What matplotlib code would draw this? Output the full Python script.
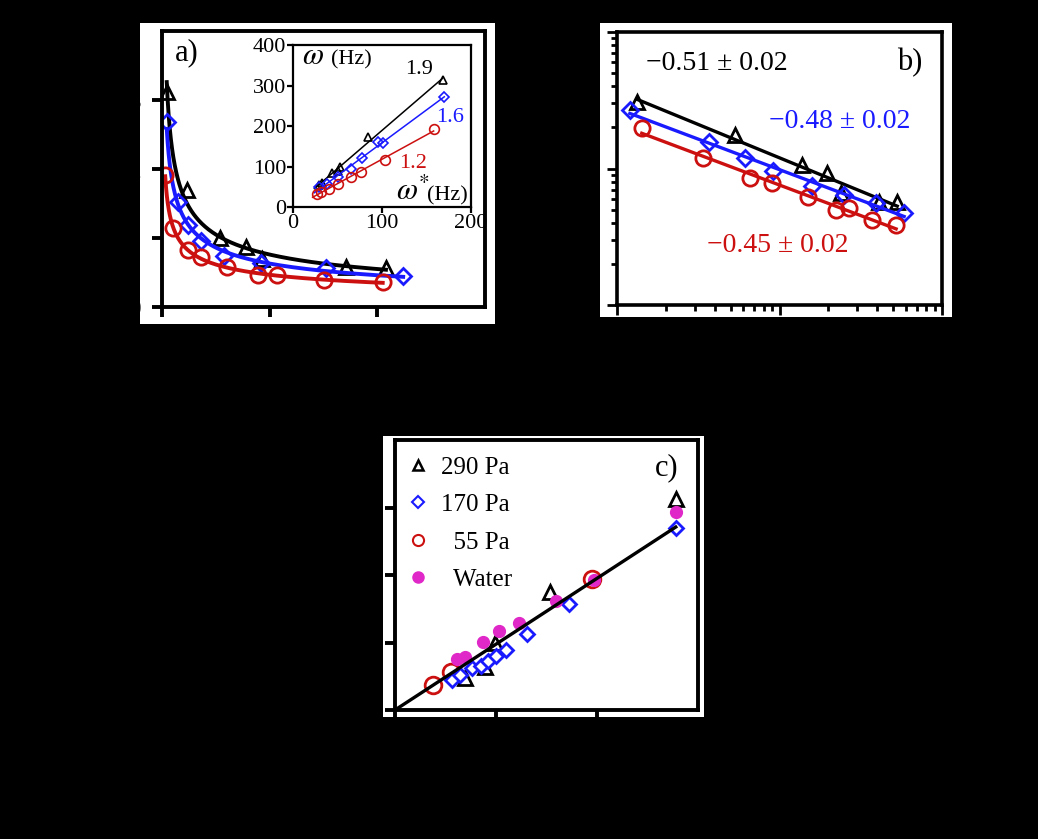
import numpy as np
import matplotlib
matplotlib.use('Agg')
import matplotlib.pyplot as plt
from matplotlib.lines import Line2D
from matplotlib.patches import Rectangle
from matplotlib.ticker import LogLocator, NullFormatter

plt.rcParams['font.family'] = ['Liberation Serif', 'DejaVu Serif']
plt.rcParams['mathtext.fontset'] = 'stix'

# ---- data ----
# panel a (linear axes)
a_x_290 = [0.044, 0.23, 0.54, 0.78, 0.93, 1.71, 2.08]
a_y_290 = [3.12, 1.70, 1.00, 0.87, 0.70, 0.58, 0.57]
a_x_170 = [0.044, 0.15, 0.24, 0.36, 0.58, 0.92, 1.52, 2.24]
a_y_170 = [2.68, 1.52, 1.19, 0.95, 0.74, 0.64, 0.56, 0.45]
a_x_55 = [0.03, 0.10, 0.24, 0.36, 0.60, 0.89, 1.07, 1.50, 2.05]
a_y_55 = [1.91, 1.14, 0.83, 0.73, 0.58, 0.46, 0.46, 0.39, 0.36]

# inset of panel a: omega vs omega*
in_x_290 = [29, 33, 44, 50, 53, 84, 168]
in_y_290 = [54, 60, 83, 90, 99, 173, 313]
in_x_170 = [29, 38, 50, 65, 78, 95, 101, 170]
in_y_170 = [49, 58, 74, 95, 120, 161, 157, 272]
in_x_55 = [27, 31, 40, 50, 65, 76, 103, 158]
in_y_55 = [33, 37, 45, 58, 74, 87, 116, 192]
in_slopes = ['1.9', '1.6', '1.2']

# panel b (log-log)
b_x_290 = [0.133, 0.53, 1.38, 1.97, 2.4, 4.1, 5.3]
b_y_290 = [3.08, 1.76, 1.06, 0.93, 0.66, 0.57, 0.57]
b_x_170 = [0.12, 0.37, 0.61, 0.91, 1.58, 2.51, 3.94, 5.85]
b_y_170 = [2.68, 1.56, 1.19, 0.96, 0.74, 0.64, 0.56, 0.47]
b_x_55 = [0.142, 0.337, 0.655, 0.893, 1.49, 2.24, 2.69, 3.72, 5.22]
b_y_55 = [1.98, 1.19, 0.85, 0.78, 0.62, 0.50, 0.51, 0.42, 0.385]
b_labels = ['\u22120.51 \u00b1 0.02', '\u22120.48 \u00b1 0.02', '\u22120.45 \u00b1 0.02']

# panel c
c_x_290 = [0.69, 0.89, 0.99, 1.53, 2.78]
c_y_290 = [0.48, 0.63, 1.00, 1.75, 3.13]
c_x_170 = [0.56, 0.64, 0.76, 0.85, 0.92, 1.00, 1.10, 1.31, 1.72, 2.78]
c_y_170 = [0.45, 0.52, 0.62, 0.65, 0.73, 0.80, 0.89, 1.12, 1.57, 2.69]
c_x_55 = [0.38, 0.55, 1.95]
c_y_55 = [0.37, 0.57, 1.94]
c_x_water = [0.61, 0.69, 0.87, 1.03, 1.23, 1.59, 1.97, 2.78]
c_y_water = [0.75, 0.79, 1.01, 1.17, 1.29, 1.61, 1.93, 2.94]
legend_labels = ['290 Pa', '170 Pa', '  55 Pa', '  Water']

BLACK, BLUE, RED, MAG = 'black', '#1a1aff', '#cc1010', '#e028c8'

W, H = 1038, 839


def rect(l, t, r, b):
    return [l / W, 1 - b / H, (r - l) / W, (b - t) / H]


def ftext(px, py, s, **kw):
    fig.text(px / W, 1 - py / H, s, **kw)


def powfit(x, y):
    x = np.asarray(x); y = np.asarray(y)
    k, c = np.polyfit(np.log(x), np.log(y), 1)
    xs = np.geomspace(x.min(), x.max(), 200)
    return xs, np.exp(c) * xs ** k


def style_main(ax, lw=2.8):
    for s in ax.spines.values():
        s.set_linewidth(lw)
    ax.tick_params(direction='out', length=7, width=lw, labelsize=18,
                   labelcolor='black', pad=8)


fig = plt.figure(figsize=(W / 100, H / 100), dpi=100, facecolor='black')
for l, t, r, b in [(140, 23, 495, 324), (600, 23, 952, 317), (383, 436, 704, 717)]:
    fig.patches.append(Rectangle((l / W, 1 - b / H), (r - l) / W, (b - t) / H,
                                 transform=fig.transFigure, facecolor='white',
                                 edgecolor='none', zorder=-1))

series = [('^', BLACK), ('D', BLUE), ('o', RED)]

# ---- panel a ----
axa = fig.add_axes(rect(162, 31, 485, 307))
axa.set_xlim(0, 3)
axa.set_ylim(0, 4)
axa.set_xticks([0, 1, 2])
axa.set_yticks([0, 1, 2, 3])
style_main(axa)
for (xs, ys), (m, col), ms in zip([(a_x_290, a_y_290), (a_x_170, a_y_170), (a_x_55, a_y_55)],
                                  series, [9.5, 8, 11]):
    fx, fy = powfit(xs, ys)
    axa.plot(fx, fy, color=col, lw=2.8)
    axa.plot(xs, ys, ls='none', marker=m, ms=ms, mfc='none', mec=col, mew=2)
ftext(187, 53, 'a)', fontsize=22, ha='center', va='center')

# inset
axi = fig.add_axes(rect(293, 45, 471, 207))
axi.set_xlim(0, 200)
axi.set_ylim(0, 400)
axi.set_xticks([0, 100, 200])
axi.set_yticks([0, 100, 200, 300, 400])
for s in axi.spines.values():
    s.set_linewidth(1.6)
axi.tick_params(direction='out', length=4, width=1.6, labelsize=16, pad=1)
for (xs, ys), (m, col), ms in zip([(in_x_290, in_y_290), (in_x_170, in_y_170), (in_x_55, in_y_55)],
                                  series, [6, 5.5, 7]):
    k, c = np.polyfit(xs, ys, 1)
    lx = np.array([min(xs) - 5, max(xs)])
    axi.plot(lx, k * lx + c, color=col, lw=1.1)
    axi.plot(xs, ys, ls='none', marker=m, ms=ms, mfc='none', mec=col, mew=1.2)
ftext(302, 64, r'$\omega$', fontsize=22, va='baseline')
ftext(331, 64, '(Hz)', fontsize=16, va='baseline')
ftext(396, 200, r'$\omega^{*}$', fontsize=22, va='baseline')
ftext(427, 200, '(Hz)', fontsize=16, va='baseline')
ftext(419, 70, in_slopes[0], fontsize=16, ha='center', va='center', color=BLACK)
ftext(450, 117, in_slopes[1], fontsize=16, ha='center', va='center', color=BLUE)
ftext(413, 163, in_slopes[2], fontsize=16, ha='center', va='center', color=RED)

# ---- panel b ----
axb = fig.add_axes(rect(617, 32, 942, 305))
axb.set_xscale('log')
axb.set_yscale('log')
axb.set_xlim(0.1, 10)
axb.set_ylim(0.1, 10)
for s in axb.spines.values():
    s.set_linewidth(2.6)
axb.tick_params(which='major', direction='out', length=7, width=2, labelsize=18, pad=8)
axb.tick_params(which='minor', direction='out', length=4.5, width=2)
for a in (axb.xaxis, axb.yaxis):
    a.set_minor_locator(LogLocator(base=10, subs=np.arange(2, 10)))
    a.set_minor_formatter(NullFormatter())
for (xs, ys), (m, col), ms in zip([(b_x_290, b_y_290), (b_x_170, b_y_170), (b_x_55, b_y_55)],
                                  series, [9.5, 8, 11]):
    fx, fy = powfit(xs, ys)
    axb.plot(fx, fy, color=col, lw=2.4)
    axb.plot(xs, ys, ls='none', marker=m, ms=ms, mfc='none', mec=col, mew=2)
ftext(717, 63, b_labels[0], fontsize=20, ha='center', va='center', color=BLACK)
ftext(840, 122, b_labels[1], fontsize=20, ha='center', va='center', color=BLUE)
ftext(778, 245, b_labels[2], fontsize=20, ha='center', va='center', color=RED)
ftext(910, 63, 'b)', fontsize=22, ha='center', va='center')

# ---- panel c ----
axc = fig.add_axes(rect(395, 440, 698, 710))
axc.set_xlim(0, 3)
axc.set_ylim(0, 4)
axc.set_xticks([0, 1, 2])
axc.set_yticks([0, 1, 2, 3])
style_main(axc)
axc.plot(c_x_55, c_y_55, ls='none', marker='o', ms=12, mfc='none', mec=RED, mew=2)
axc.plot(c_x_290, c_y_290, ls='none', marker='^', ms=9.5, mfc='none', mec=BLACK, mew=2)
axc.plot(c_x_170, c_y_170, ls='none', marker='D', ms=7.5, mfc='white', mec=BLUE, mew=2)
axc.plot(c_x_water, c_y_water, ls='none', marker='o', ms=8.5, mfc=MAG, mec=MAG)
# guide line through the origin, fitted to the three gel series
cx = np.concatenate([c_x_290, c_x_170, c_x_55])
cy = np.concatenate([c_y_290, c_y_170, c_y_55])
slope = np.sum(cx * cy) / np.sum(cx * cx)
lx = np.array([0, cx.max()])
axc.plot(lx, slope * lx, color='black', lw=2.4, zorder=5)
handles = [Line2D([], [], ls='none', marker='^', ms=6.5, mfc='none', mec=BLACK, mew=1.8),
           Line2D([], [], ls='none', marker='D', ms=6, mfc='none', mec=BLUE, mew=1.5),
           Line2D([], [], ls='none', marker='o', ms=8, mfc='none', mec=RED, mew=1.5),
           Line2D([], [], ls='none', marker='o', ms=8, mfc=MAG, mec=MAG)]
axc.legend(handles, legend_labels, loc='upper left', bbox_to_anchor=(0.035, 0.94),
           frameon=False, fontsize=18, handlelength=1.0, handletextpad=0.4,
           labelspacing=0.6, borderpad=0, borderaxespad=0)
ftext(667, 468, 'c)', fontsize=22, ha='center', va='center')

fig.savefig('out.png', dpi=100, facecolor='black')
